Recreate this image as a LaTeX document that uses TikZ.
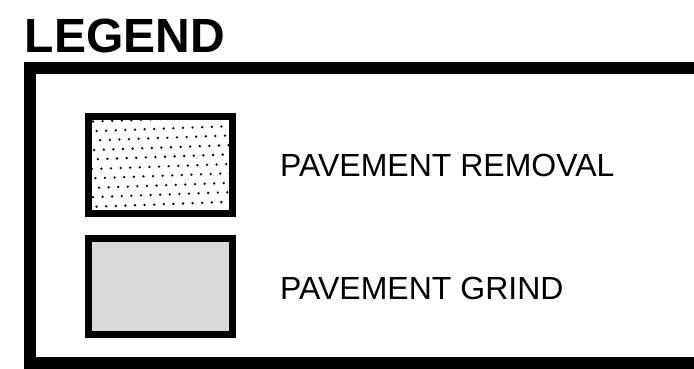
\documentclass[tikz,border=0pt]{standalone}
\usepackage{fontspec}
\setmainfont{Liberation Sans}
\definecolor{grindgray}{HTML}{D9D9D9}
\begin{document}
\begin{tikzpicture}[x=1pt,y=-1pt,
  frame/.style={line width=12pt},
  swatch/.style={draw,line width=7pt,minimum width=144pt,minimum height=97pt,inner sep=0pt,outer sep=0pt},
  label/.style={anchor=base west,inner sep=0pt,font=\fontsize{32}{36}\selectfont},
  title/.style={anchor=base west,inner sep=0pt,font=\fontsize{48}{54}\selectfont\bfseries}]
\useasboundingbox (0,0) rectangle (694,368);
\clip (0,0) rectangle (694,368);
\node[title] (legend) at (24.5,52) {LEGEND};
\draw[frame] (710,68) -- (30,68) -- (30,363) -- (710,363);
\node[swatch,fill=white] (removal) at (160.5,165) {};
\begin{scope}
  \clip (92,120) rectangle (229,210);
  \foreach \j in {0,...,10}{
    \foreach \i in {-1,...,15}{
      \fill ({92+1+\i*9.6+mod(\j,2)*4.8-\j*1.2},{120+1.5+\j*9.5-\i*0.35}) circle (1.3pt);
    }
  }
\end{scope}
\node[swatch,fill=grindgray,minimum height=96pt] (grind) at (160.5,286.5) {};
\node[label] (removaltext) at (280,176) {PAVEMENT REMOVAL};
\node[label] (grindtext) at (280,299) {PAVEMENT GRIND};
\end{tikzpicture}
\end{document}
